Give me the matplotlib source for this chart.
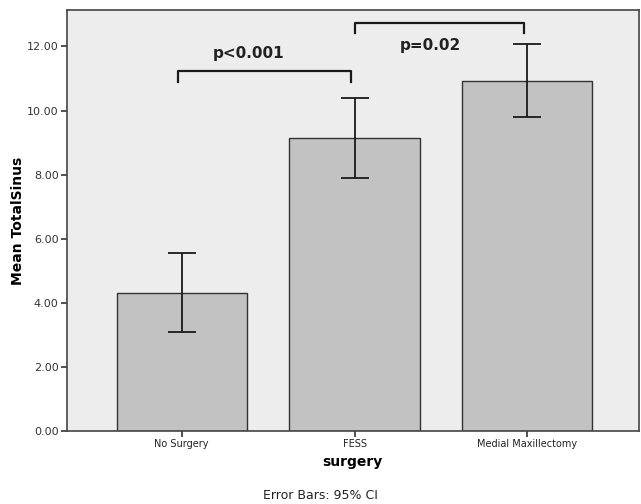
import matplotlib.pyplot as plt

groups = ["No Surgery", "FESS", "Medial Maxillectomy"]
means = [4.32, 9.14, 10.93]
ci_low = [3.09, 7.88, 9.79]
ci_high = [5.55, 10.40, 12.07]
yticks = [0, 2, 4, 6, 8, 10, 12]

# brackets: (left x, right x, top, tip, label, label x, label y)
brackets = [
    (-0.02, 0.98, 11.23, 10.90, "p<0.001", 0.384, 11.55),
    (1.005, 1.98, 12.74, 12.41, "p=0.02", 1.438, 11.80),
]

fig = plt.figure(figsize=(6.41, 5.04), dpi=100)
ax = fig.add_axes([0.1045, 0.1448, 0.892, 0.835])
ax.set_facecolor("#ededed")

x = list(range(len(groups)))
ax.bar(x, means, width=0.753, color="#c2c2c2", edgecolor="#333333", linewidth=1.0, zorder=2)
err = [[m - lo for m, lo in zip(means, ci_low)], [hi - m for m, hi in zip(means, ci_high)]]
ax.errorbar(x, means, yerr=err, fmt="none", ecolor="#1a1a1a", elinewidth=1.3,
            capsize=10, capthick=1.3, zorder=3)

for xi, xj, top, tip, label, lx, ly in brackets:
    ax.plot([xi, xi, xj, xj], [tip, top, top, tip], color="#1a1a1a", lw=1.6, zorder=3)
    ax.text(lx, ly, label, ha="center", va="bottom",
            fontsize=11, fontweight="bold", color="#222222")

ax.set_xlim(-0.664, 2.645)
ax.set_ylim(0, 13.13)
ax.set_yticks(yticks)
ax.set_yticklabels([f"{v:.2f}" for v in yticks], fontsize=8, color="#333333")
ax.set_xticks(x)
ax.set_xticklabels(groups, fontsize=7, color="#222222")
ax.tick_params(axis="both", length=4, width=1.2, color="#333333", pad=2)
for s in ax.spines.values():
    s.set_color("#444444")
    s.set_linewidth(1.2)

ax.set_ylabel("Mean TotalSinus", fontsize=10, fontweight="bold")
ax.yaxis.set_label_coords(-0.074, 0.5)
ax.set_xlabel("surgery", fontsize=10, fontweight="bold", labelpad=4)
fig.text(0.5, 0.004, "Error Bars: 95% CI", ha="center", va="bottom", fontsize=9, color="#222222")

fig.savefig("out.png", dpi=100)
